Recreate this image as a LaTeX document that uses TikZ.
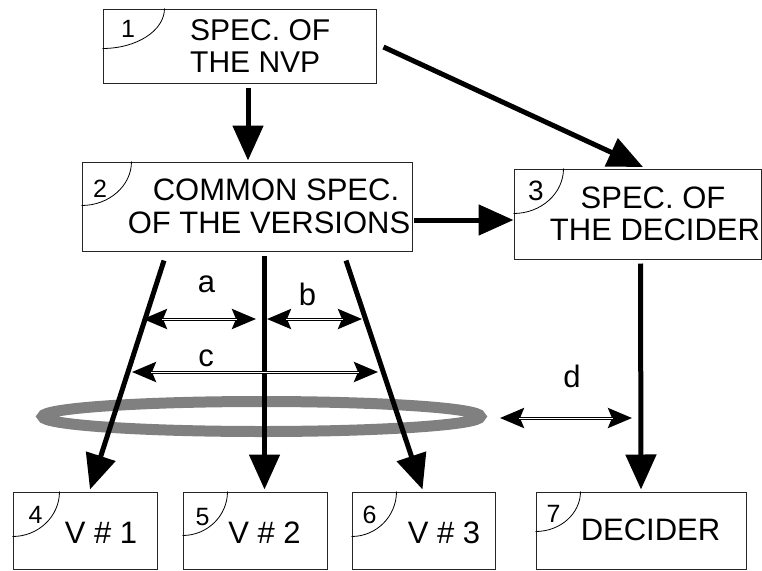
\documentclass[tikz,border=0pt]{standalone}
\usepackage{fontspec}
\setmainfont{Liberation Sans}
\usetikzlibrary{arrows.meta,calc,shapes.geometric}
\begin{document}
\begin{tikzpicture}[x=1pt,y=-1pt,
  box/.style={draw=black!85, line width=1pt, fill=white, inner sep=0pt},
  big/.style={line width=5pt, -{Triangle[length=35pt,width=30pt]}},
  dimarr/.style={line width=3pt, {Stealth[length=24pt,width=20pt,inset=4pt]}-{Stealth[length=24pt,width=20pt,inset=4pt]}},
  dimin/.style={white, line width=1pt, shorten <=19pt, shorten >=19pt},
  txt/.style={font=\fontsize{31}{33}\selectfont, inner sep=0pt, anchor=base},
  num/.style={font=\fontsize{25}{25}\selectfont, inner sep=0pt, anchor=base},
  cornerarc/.style={line width=0.8pt},
  ringstyle/.style={ellipse, draw=gray, line width=11pt, inner sep=0pt, minimum width=438pt, minimum height=30pt},
]
\useasboundingbox (0,0) rectangle (762,570);

% ring
\node[ringstyle] (ring) at (261.5,416.5) {};

% boxes (geometry only, drawn later on top of arrow ends)
\path
  (239.5,46)  coordinate (c1)
  (247,206.5) coordinate (c2)
  (637.5,214) coordinate (c3)
  (85,530.5)  coordinate (c4)
  (255,530.5) coordinate (c5)
  (423.5,530.5) coordinate (c6)
  (641,530.5) coordinate (c7);

\node[box, minimum width=273pt, minimum height=74pt] (b1) at (c1) {};
\node[box, minimum width=330pt, minimum height=89pt] (b2) at (c2) {};

% main arrows
\draw[big] ($(b1.south)+(8.5,4)$) -- ($(b2.north)+(1,-1)$);
\draw[big] ($(b1.east)+(7,1)$) -- ($(c3)+(5.5,-45)+(0,-2)$) coordinate (t13);
\node[box, minimum width=247pt, minimum height=90pt] (b3) at (c3) {};
\node[box, minimum width=144pt, minimum height=77pt] (b4) at (c4) {};
\node[box, minimum width=144pt, minimum height=77pt] (b5) at (c5) {};
\node[box, minimum width=143pt, minimum height=77pt] (b6) at (c6) {};
\node[box, minimum width=210pt, minimum height=77pt] (b7) at (c7) {};

\draw[big] ($(b2.east)+(1,13.5)$) -- ($(b3.west)+(0,6)$);
\draw[big] ($(b2.south)+(-83,9)$) -- ($(b4.north)+(5,-2)$);
\draw[big] ($(b2.south)+(17.5,4)$) -- ($(b5.north)+(9.5,-2)$);
\draw[big] ($(b2.south)+(99,9)$) -- ($(b6.north)+(-1,-2)$);
\draw[big] ($(b3.south)+(3,4)$) -- ($(b7.north)+(0,-2)$);

% dimension arrows
\coordinate (a1) at (143,319);  \coordinate (a2) at (256,319);
\coordinate (bb1) at (267,319); \coordinate (bb2) at (362,319);
\coordinate (cc1) at (132,372); \coordinate (cc2) at (378,372);
\coordinate (d1) at (500,418);  \coordinate (d2) at (632,418);
\foreach \p/\q in {a1/a2, bb1/bb2, cc1/cc2, d1/d2} {
  \draw[dimarr] (\p) -- (\q);
  \draw[dimin] (\p) -- (\q);
}
\node[txt] (la) at (206.5,292) {a};
\node[txt] (lb) at (307.5,305) {b};
\node[txt] (lc) at (206,366) {c};
\node[txt] (ld) at (572,387) {d};

% corner arcs
\draw[cornerarc] ($(b1.north west)+(62,0)$) arc[start angle=0,end angle=-90,x radius=62pt,y radius=40pt];
\draw[cornerarc] ($(b2.north west)+(50,0)$) arc[start angle=0,end angle=-90,x radius=50pt,y radius=44pt];
\draw[cornerarc] ($(b3.north west)+(50,0)$) arc[start angle=0,end angle=-90,x radius=50pt,y radius=45pt];
\draw[cornerarc] ($(b4.north west)+(47,0)$) arc[start angle=0,end angle=-90,x radius=47pt,y radius=45pt];
\draw[cornerarc] ($(b5.north west)+(45,0)$) arc[start angle=0,end angle=-90,x radius=45pt,y radius=44pt];
\draw[cornerarc] ($(b6.north west)+(45,0)$) arc[start angle=0,end angle=-90,x radius=45pt,y radius=45pt];
\draw[cornerarc] ($(b7.north west)+(45,0)$) arc[start angle=0,end angle=-90,x radius=45pt,y radius=40pt];

% numbers
\node[num] (n1) at (128,37) {1};
\node[num] (n2) at (100,197) {2};
\node[num, font=\fontsize{28}{28}\selectfont] (n3) at (536,200) {3};
\node[num] (n4) at (35.5,523) {4};
\node[num] (n5) at (202.5,525) {5};
\node[num] (n6) at (369.5,523) {6};
\node[num] (n7) at (553.5,522) {7};

% box texts
\node[txt, anchor=base west, font=\fontsize{30}{33}\selectfont] (t1a) at (190,40) {SPEC. OF};
\node[txt, anchor=base west, font=\fontsize{30}{33}\selectfont] (t1b) at (190,72) {THE NVP};
\node[txt] (t2a) at (276,200) {COMMON SPEC.};
\node[txt] (t2b) at (269,233) {OF THE VERSIONS};
\node[txt] (t3a) at (653,208) {SPEC. OF};
\node[txt] (t3b) at (655,240) {THE DECIDER};
\node[txt] (t4) at (101,543) {V \# 1};
\node[txt] (t5) at (264.5,543) {V \# 2};
\node[txt] (t6) at (444,543) {V \# 3};
\node[txt] (t7) at (650.5,540) {DECIDER};
\end{tikzpicture}
\end{document}
